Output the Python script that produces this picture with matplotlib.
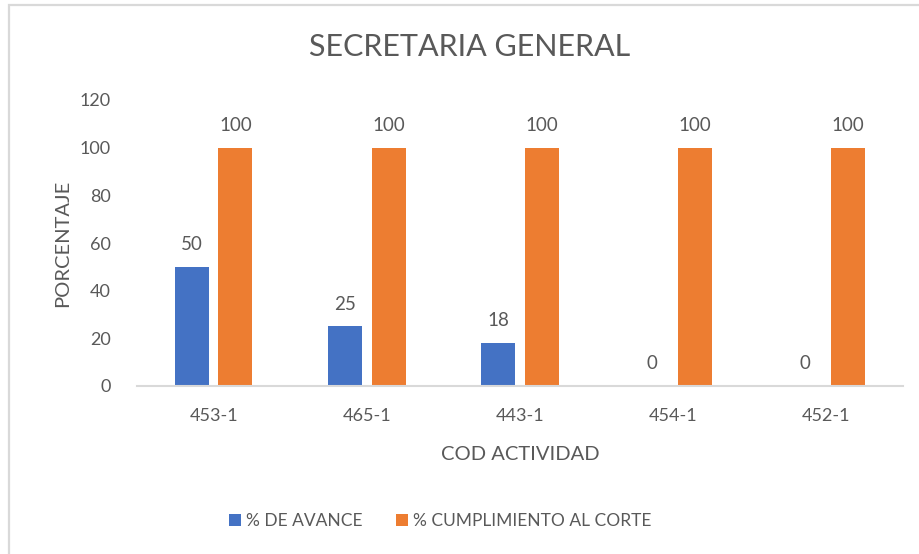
import matplotlib
matplotlib.use("Agg")
import matplotlib.pyplot as plt
from matplotlib.patches import Rectangle
import numpy as np

categories = ["453-1", "465-1", "443-1", "454-1", "452-1"]
avance = [50, 25, 18, 0, 0]
cumplimiento = [100, 100, 100, 100, 100]
series_names = ["% DE AVANCE", "% CUMPLIMIENTO AL CORTE"]
yticks = [0, 20, 40, 60, 80, 100, 120]

BLUE = "#4472C4"
ORANGE = "#ED7D31"
TXT = "#595959"
FONT = "Lato"

plt.rcParams["font.family"] = [FONT, "DejaVu Sans"]

W, H = 919, 554
fig = plt.figure(figsize=(W / 100, H / 100), dpi=100)
fig.patch.set_facecolor("white")

# outer chart border (only top and left visible)
fig.add_artist(Rectangle((8.5 / W, -0.05), 1.1, 1.05 - 5 / H, transform=fig.transFigure,
                         fill=False, edgecolor="#D9D9D9", linewidth=1.6))

left, right = 137 / W, 903 / W
bottom, top = 1 - 386 / H, 1 - 100 / H
ax = fig.add_axes([left, bottom, right - left, top - bottom])

x = np.arange(len(categories))
bw = 0.222
off = 0.142
b1 = ax.bar(x - off, avance, bw, color=BLUE, label=series_names[0])
b2 = ax.bar(x + off, cumplimiento, bw, color=ORANGE, label=series_names[1])

ax.bar_label(b1, labels=[str(v) for v in avance], padding=10, color=TXT, fontsize=13.5)
ax.bar_label(b2, labels=[str(v) for v in cumplimiento], padding=10, color=TXT, fontsize=13.5)

ax.set_xlim(-0.5, len(categories) - 0.5)
ax.set_ylim(0, 120)
ax.set_yticks(yticks)
ax.set_xticks(x)
ax.set_xticklabels(categories)
ax.tick_params(axis="both", length=0, labelsize=13, colors=TXT)
ax.tick_params(axis="y", pad=19)
ax.tick_params(axis="x", pad=16)

for s in ["top", "right", "left"]:
    ax.spines[s].set_visible(False)
ax.spines["bottom"].set_color("#D9D9D9")
ax.spines["bottom"].set_linewidth(1.5)

ax.set_xlabel("COD ACTIVIDAD", fontsize=14.5, color=TXT, labelpad=16)
ax.set_ylabel("PORCENTAJE", fontsize=14.5, color=TXT, labelpad=6)

fig.text(470 / W, 1 - 47 / H, "SECRETARIA GENERAL", ha="center", va="center",
         fontsize=22, color=TXT)

fig.legend(handles=[b1, b2], labels=series_names, loc="center",
           bbox_to_anchor=(440 / W, 1 - 521 / H), ncol=2, frameon=False,
           fontsize=12.5, labelcolor=TXT, handlelength=0.7, handleheight=0.7,
           handletextpad=0.3, columnspacing=1.9)

fig.savefig("out.png", dpi=100)
